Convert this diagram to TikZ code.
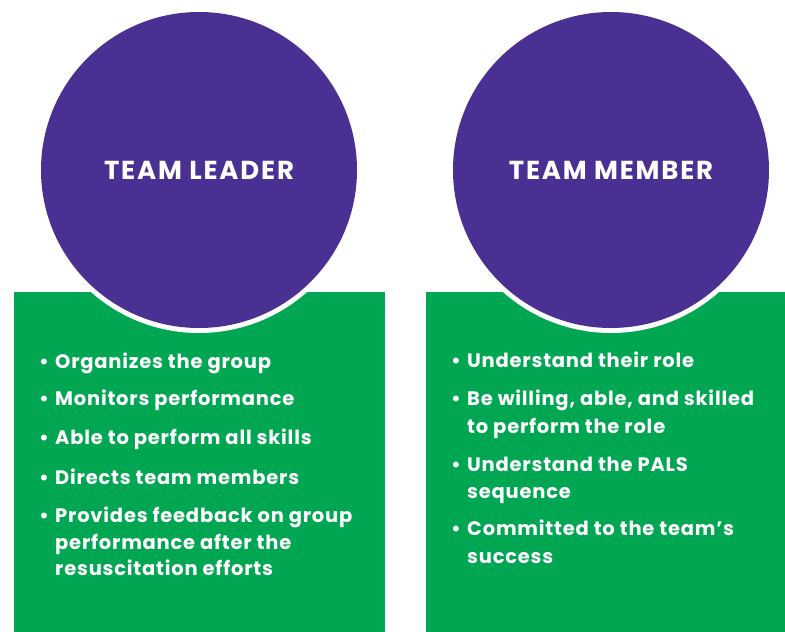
\documentclass[tikz,border=0pt]{standalone}
\usepackage{fontspec}
\setmainfont{Poppins}[BoldFont={Poppins Bold}]
\newfontfamily\titlefont{Poppins Bold}[LetterSpace=7]
\newfontfamily\itemfont{Poppins Bold}[LetterSpace=4]
\definecolor{tpurple}{HTML}{4A3092}
\definecolor{tgreen}{HTML}{00A651}
\begin{document}
\begin{tikzpicture}[x=1pt,y=-1pt,
  panel/.style={fill=tgreen},
  ring/.style={fill=white},
  roundel/.style={circle,fill=tpurple,minimum size=316pt,inner sep=0pt,outer sep=0pt,
    text=white,font=\titlefont\fontsize{26}{28}\selectfont},
  itemtext/.style={anchor=base west,inner sep=0pt,text=white,font=\itemfont\fontsize{19.5}{22}\selectfont},
  dot/.style={anchor=base west,inner sep=0pt,text=white,font=\itemfont\fontsize{19.5}{22}\selectfont}]
\useasboundingbox (0,0) rectangle (785,632);
\fill[panel] (14,292) rectangle (385,632);
\fill[panel] (426,292) rectangle (785,632);
\fill[ring] (199,170) circle (163);
\fill[ring] (611,170) circle (163);
\node[roundel] (leader) at (199,170) {TEAM LEADER};
\node[roundel] (member) at (611,170) {TEAM MEMBER};
% left list
\node[dot] (lb1) at (39,368) {•};
\node[itemtext] (l1) at (55,368) {Organizes the group};
\node[dot] (lb2) at (39,405) {•};
\node[itemtext] (l2) at (55,405) {Monitors performance};
\node[dot] (lb3) at (39,444) {•};
\node[itemtext] (l3) at (55,444) {Able to perform all skills};
\node[dot] (lb4) at (39,484) {•};
\node[itemtext] (l4) at (55,484) {Directs team members};
\node[dot] (lb5) at (39,522) {•};
\node[itemtext] (l5a) at (55,522) {Provides feedback on group};
\node[itemtext] (l5b) at (55,549) {performance after the};
\node[itemtext] (l5c) at (55,575) {resuscitation efforts};
% right list
\node[dot] (rb1) at (451,367) {•};
\node[itemtext] (r1) at (467,367) {Understand their role};
\node[dot] (rb2) at (451,405) {•};
\node[itemtext] (r2a) at (467,405) {Be willing, able, and skilled};
\node[itemtext] (r2b) at (467,433) {to perform the role};
\node[dot] (rb3) at (451,471) {•};
\node[itemtext] (r3a) at (467,471) {Understand the PALS};
\node[itemtext] (r3b) at (467,498) {sequence};
\node[dot] (rb4) at (451,535) {•};
\node[itemtext] (r4a) at (467,535) {Committed to the team’s};
\node[itemtext] (r4b) at (467,563) {success};
\end{tikzpicture}
\end{document}
